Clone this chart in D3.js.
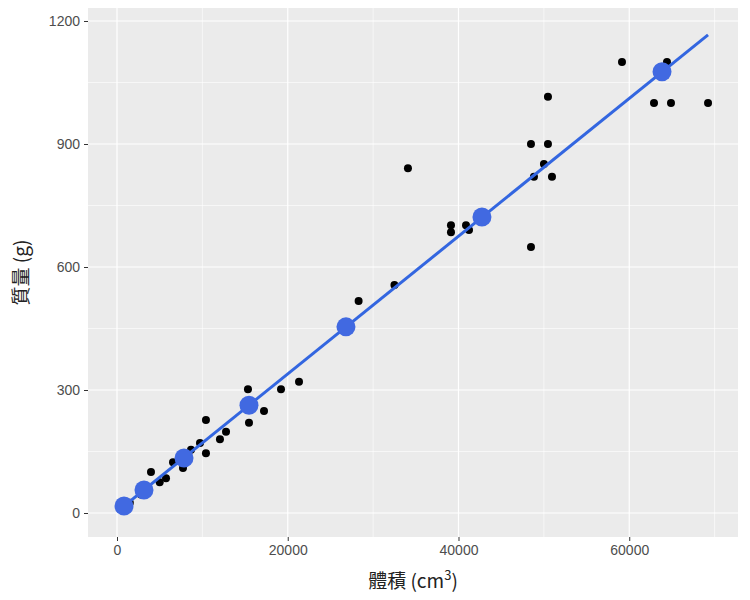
<!DOCTYPE html>
<html><head><meta charset="utf-8">
<script src="https://cdn.jsdelivr.net/npm/d3@7"></script>
<style>body{margin:0;background:#fff;font-family:"Noto Sans CJK TC","Noto Sans",sans-serif}</style>
</head><body><svg id="c" width="750" height="600"></svg>
<script>
// observed specimens
const volume = [1500, 2800, 3500, 5000, 3980, 5740, 6560, 7730, 8670, 9720, 10420, 10420, 12060, 12770,
  15340, 15460, 17220, 19210, 21320, 28300, 32500, 34080, 39120, 39120, 40880, 41230,
  48490, 48490, 48840, 50010, 50950, 50480, 50480, 59150, 62900, 64890, 64420, 69230];
const mass = [25, 45, 60, 75, 100, 85, 124, 110, 154, 171, 227, 146, 180, 198,
  302, 220, 249, 302, 320, 517, 556, 841, 702, 685, 702, 690,
  649, 900, 820, 851, 820, 900, 1015, 1100, 1000, 1000, 1100, 1000];
// fitted predictions
const predVolume = [820, 3160, 7850, 15460, 26820, 42750, 63840];
const predMass = [17, 56, 134, 263, 454, 722, 1076];
const lineX = [0, 69230];
const lineY = [3.2, 1166];
const xTicks = [0, 20000, 40000, 60000];
const yTicks = [0, 300, 600, 900, 1200];

const svg = d3.select('#c');
const L = 88, R = 738, T = 8, B = 537;
const x = d3.scaleLinear().domain([-3397, 72740]).range([L, R]);
const y = d3.scaleLinear().domain([-58.5, 1231.7]).range([B, T]);

svg.append('rect').attr('x', L).attr('y', T).attr('width', R - L).attr('height', B - T).attr('fill', '#ebebeb');
const minorX = [10000, 30000, 50000, 70000], minorY = [150, 450, 750, 1050];
const g = svg.append('g');
g.selectAll('.mx').data(minorX).join('line').attr('x1', x).attr('x2', x).attr('y1', T).attr('y2', B).attr('stroke', '#fff').attr('stroke-width', 0.6);
g.selectAll('.my').data(minorY).join('line').attr('y1', y).attr('y2', y).attr('x1', L).attr('x2', R).attr('stroke', '#fff').attr('stroke-width', 0.6);
g.selectAll('.gx').data(xTicks).join('line').attr('x1', x).attr('x2', x).attr('y1', T).attr('y2', B).attr('stroke', '#fff').attr('stroke-width', 1.2);
g.selectAll('.gy').data(yTicks).join('line').attr('y1', y).attr('y2', y).attr('x1', L).attr('x2', R).attr('stroke', '#fff').attr('stroke-width', 1.2);

const xa = svg.append('g').attr('transform', `translate(0,${B})`).call(d3.axisBottom(x).tickValues(xTicks).tickFormat(d3.format('d')).tickSize(4).tickPadding(4));
const ya = svg.append('g').attr('transform', `translate(${L},0)`).call(d3.axisLeft(y).tickValues(yTicks).tickFormat(d3.format('d')).tickSize(4).tickPadding(4));
[xa, ya].forEach(a => {
  a.select('.domain').remove();
  a.selectAll('line').attr('stroke', '#333');
  a.selectAll('text').attr('fill', '#4d4d4d').style('font-size', '14px').style('font-family', 'Liberation Sans, sans-serif');
});

svg.append('g').selectAll('circle').data(volume).join('circle')
  .attr('cx', d => x(d)).attr('cy', (d, i) => y(mass[i])).attr('r', 4).attr('fill', '#000');
svg.append('line').attr('x1', x(lineX[0])).attr('y1', y(lineY[0])).attr('x2', x(lineX[1])).attr('y2', y(lineY[1]))
  .attr('stroke', '#3366e0').attr('stroke-width', 3);
svg.append('g').selectAll('circle').data(predVolume).join('circle')
  .attr('cx', d => x(d)).attr('cy', (d, i) => y(predMass[i])).attr('r', 9.5).attr('fill', '#4169e1');

const xl = svg.append('text').attr('x', (L + R) / 2).attr('y', 588).attr('text-anchor', 'middle').style('font-size', '19px').attr('fill', '#222');
xl.append('tspan').text('體積 (cm');
xl.append('tspan').attr('dy', -8).style('font-size', '13px').text('3');
xl.append('tspan').attr('dy', 8).text(')');
svg.append('text').attr('transform', `translate(28,${(T + B) / 2}) rotate(-90)`).attr('text-anchor', 'middle').style('font-size', '19px').attr('fill', '#222').text('質量 (g)');
</script></body></html>
